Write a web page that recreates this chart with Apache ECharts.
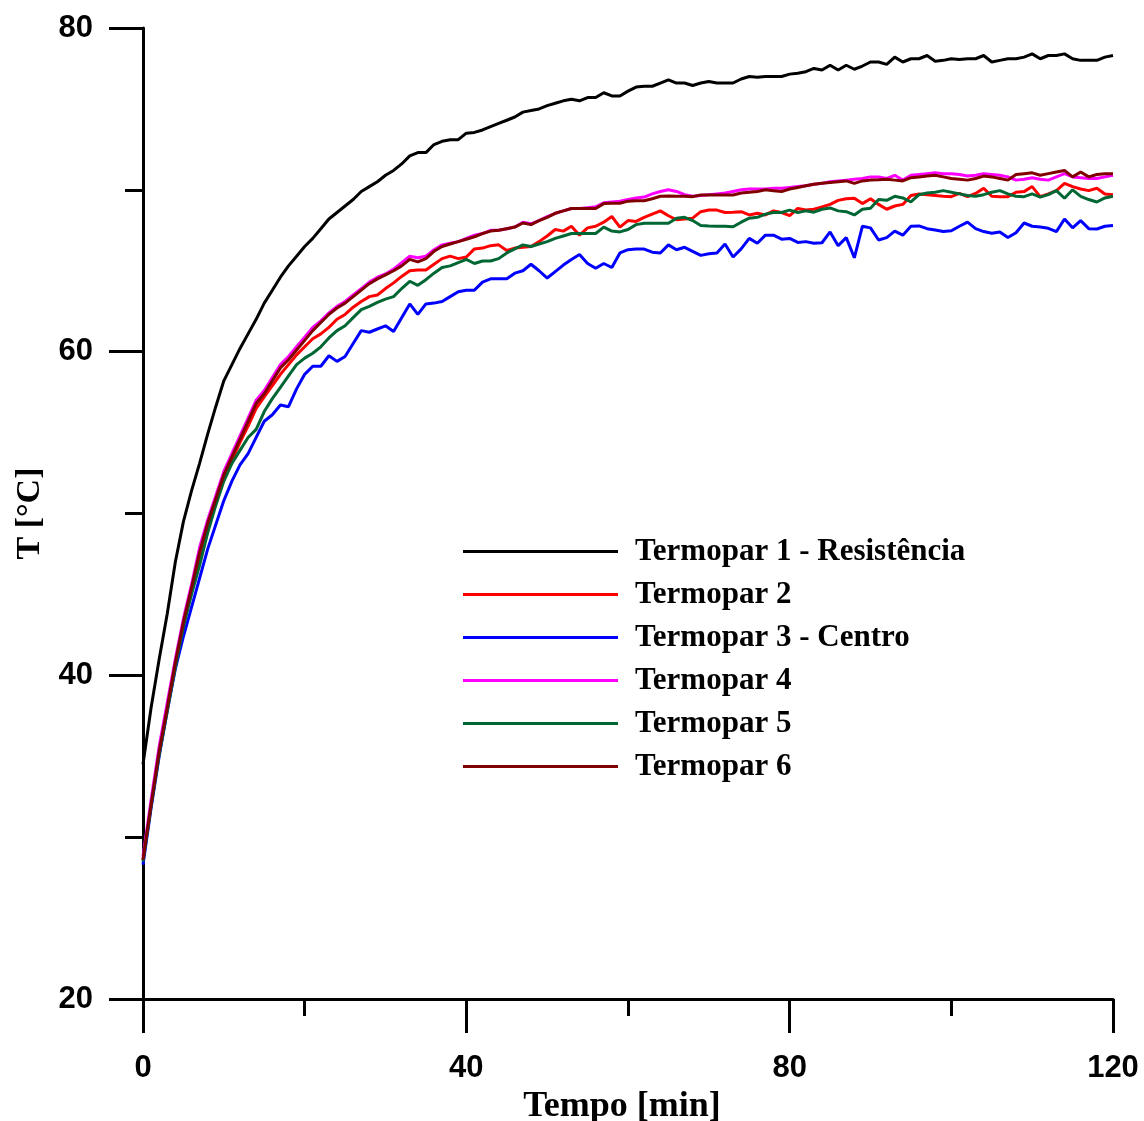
<!DOCTYPE html>
<html>
<head>
<meta charset="utf-8">
<script src="https://cdn.jsdelivr.net/npm/echarts@6/dist/echarts.min.js"></script>
<style>
html,body{margin:0;padding:0;background:#fff;}
#chart{width:1144px;height:1121px;}
</style>
</head>
<body>
<div id="chart"></div>
<script>
// Time in minutes: one reading per minute, 0..120
const seriesNames = ['Termopar 1 - Resistência','Termopar 2','Termopar 3 - Centro','Termopar 4','Termopar 5','Termopar 6'];
const seriesColors = ['#000000','#ff0000','#0000ff','#ff00ff','#006633','#800000'];
const xTicks = [0, 40, 80, 120];
const yTicks = [20, 40, 60, 80];

const termopar1 = [34.5,38.0,41.0,43.8,47.0,49.5,51.4,53.1,54.9,56.6,
58.2,59.2,60.2,61.1,62.0,63.0,63.8,64.6,65.3,65.9,
66.5,67.0,67.6,68.2,68.6,69.0,69.4,69.9,70.2,70.5,
70.9,71.2,71.6,72.1,72.3,72.3,72.8,73.0,73.1,73.1,
73.5,73.55,73.7,73.9,74.1,74.3,74.5,74.8,74.9,75.0,
75.2,75.35,75.5,75.6,75.5,75.7,75.7,76.0,75.8,75.8,
76.1,76.35,76.4,76.4,76.6,76.8,76.6,76.6,76.45,76.6,
76.7,76.6,76.6,76.6,76.85,77.0,76.95,77.0,77.0,77.0,
77.15,77.2,77.3,77.5,77.4,77.7,77.4,77.7,77.45,77.65,
77.9,77.9,77.75,78.2,77.9,78.1,78.1,78.3,77.95,78.0,
78.1,78.05,78.1,78.1,78.3,77.9,78.0,78.1,78.1,78.2,
78.4,78.1,78.3,78.3,78.4,78.1,78.0,78.0,78.0,78.2,78.3];

const termopar2 = [28.6,32.0,35.3,38.0,40.7,43.2,45.3,47.4,49.2,50.7,
52.1,53.3,54.4,55.4,56.5,57.2,57.9,58.6,59.2,59.8,
60.3,60.8,61.1,61.5,62.0,62.3,62.75,63.1,63.4,63.5,
63.9,64.25,64.65,65.0,65.05,65.05,65.4,65.75,65.9,65.75,
65.85,66.35,66.4,66.55,66.6,66.25,66.4,66.45,66.5,66.8,
67.15,67.55,67.45,67.75,67.2,67.65,67.75,68.0,68.35,67.7,
68.1,68.05,68.3,68.5,68.7,68.4,68.15,68.2,68.25,68.65,
68.75,68.75,68.6,68.62,68.65,68.45,68.55,68.45,68.7,68.6,
68.4,68.85,68.75,68.8,68.95,69.1,69.35,69.45,69.48,69.15,
69.45,69.1,68.8,69.0,69.1,69.65,69.74,69.7,69.65,69.6,
69.58,69.78,69.58,69.78,70.1,69.6,69.58,69.58,69.85,69.89,
70.2,69.58,69.75,69.95,70.4,70.2,70.05,69.95,70.1,69.74,69.7];

const termopar3 = [28.3,31.8,35.0,37.8,40.4,42.4,44.2,46.0,47.8,49.3,
50.8,52.0,53.0,53.7,54.7,55.7,56.1,56.7,56.6,57.7,
58.6,59.1,59.1,59.75,59.4,59.7,60.5,61.3,61.2,61.4,
61.6,61.25,62.1,62.95,62.3,62.95,63.0,63.1,63.4,63.7,
63.8,63.8,64.3,64.5,64.5,64.5,64.85,65.0,65.4,65.0,
64.55,64.95,65.35,65.7,66.0,65.45,65.15,65.45,65.2,66.1,
66.3,66.34,66.34,66.15,66.1,66.6,66.3,66.45,66.2,65.95,
66.05,66.1,66.65,65.85,66.35,67.0,66.7,67.2,67.2,66.95,
67.0,66.75,66.8,66.7,66.73,67.4,66.55,67.05,65.8,67.75,
67.65,66.9,67.05,67.45,67.2,67.75,67.77,67.6,67.52,67.42,
67.47,67.75,68.0,67.6,67.42,67.32,67.4,67.05,67.35,67.95,
67.75,67.7,67.62,67.42,68.2,67.65,68.1,67.6,67.58,67.75,67.8];

const termopar4 = [28.8,32.3,35.6,38.3,41.0,43.5,45.6,47.9,49.6,51.1,
52.6,53.7,54.8,55.9,57.0,57.6,58.4,59.2,59.7,60.3,
60.9,61.5,61.9,62.4,62.8,63.1,63.5,63.9,64.3,64.6,
64.8,65.1,65.5,65.9,65.8,65.9,66.3,66.6,66.7,66.8,
67.0,67.2,67.3,67.5,67.5,67.6,67.7,68.0,67.9,68.1,
68.35,68.55,68.7,68.85,68.85,68.9,68.95,69.2,69.25,69.3,
69.4,69.5,69.55,69.75,69.9,70.0,69.9,69.7,69.6,69.65,
69.7,69.75,69.8,69.9,70.0,70.05,70.05,70.05,70.1,70.1,
70.15,70.2,70.25,70.35,70.4,70.5,70.55,70.6,70.65,70.7,
70.8,70.8,70.7,70.9,70.6,70.9,70.95,71.0,71.05,71.0,
71.0,70.95,70.85,70.9,71.0,70.95,70.9,70.8,70.6,70.65,
70.75,70.65,70.6,70.8,71.0,70.8,70.75,70.7,70.7,70.8,70.9];

const termopar5 = [28.5,31.9,35.1,37.8,40.5,43.0,45.0,46.8,48.8,50.5,
52.0,53.1,53.9,54.7,55.2,56.3,57.1,57.8,58.5,59.2,
59.6,59.9,60.3,60.85,61.3,61.6,62.1,62.6,62.8,63.05,
63.25,63.4,63.9,64.35,64.1,64.45,64.85,65.2,65.3,65.5,
65.7,65.45,65.6,65.6,65.75,66.1,66.35,66.6,66.5,66.65,
66.8,67.0,67.15,67.3,67.3,67.3,67.3,67.7,67.45,67.4,
67.55,67.85,67.93,67.93,67.93,67.93,68.25,68.3,68.1,67.8,
67.77,67.75,67.75,67.72,68.0,68.25,68.3,68.5,68.6,68.6,
68.75,68.6,68.7,68.62,68.8,68.88,68.7,68.65,68.45,68.8,
68.86,69.4,69.35,69.6,69.5,69.25,69.7,69.8,69.85,69.95,
69.85,69.75,69.65,69.6,69.7,69.85,69.95,69.75,69.6,69.58,
69.75,69.55,69.7,69.95,69.48,70.0,69.6,69.4,69.25,69.5,69.6];

const termopar6 = [28.6,32.0,35.3,38.0,40.8,43.3,45.4,47.6,49.4,50.9,
52.4,53.5,54.6,55.7,56.8,57.4,58.2,59.0,59.5,60.1,
60.7,61.3,61.8,62.3,62.7,63.0,63.4,63.8,64.2,64.5,
64.75,65.0,65.3,65.7,65.55,65.75,66.2,66.5,66.65,66.8,
66.95,67.1,67.3,67.45,67.5,67.6,67.7,67.95,67.85,68.1,
68.3,68.55,68.7,68.85,68.85,68.85,68.85,69.15,69.17,69.17,
69.3,69.33,69.33,69.45,69.6,69.62,69.6,69.6,69.58,69.68,
69.68,69.68,69.68,69.68,69.8,69.85,69.9,70.0,69.95,69.9,
70.05,70.15,70.25,70.35,70.4,70.45,70.5,70.55,70.4,70.55,
70.6,70.62,70.65,70.6,70.55,70.75,70.8,70.85,70.9,70.8,
70.7,70.65,70.6,70.7,70.85,70.8,70.7,70.6,70.95,71.0,
71.05,70.9,71.0,71.1,71.2,70.8,71.1,70.8,70.95,71.0,71.0];

const allValues = [termopar1, termopar2, termopar3, termopar4, termopar5, termopar6];

const chart = echarts.init(document.getElementById('chart'), null, {renderer:'canvas'});
const axisFont = {fontFamily:'Liberation Sans', fontWeight:'bold', fontSize:31, color:'#000'};

const series = allValues.map((vals, i) => ({
  name: seriesNames[i],
  type: 'line',
  data: vals.map((v, t) => [t, v]),
  symbol: 'none',
  showSymbol: false,
  lineStyle: {color: seriesColors[i], width: 3},
  itemStyle: {color: seriesColors[i]},
  animation: false
}));

chart.setOption({
  backgroundColor: '#fff',
  animation: false,
  grid: {left:143, right:31, top:28, bottom:122, containLabel:false, outerBoundsMode:'none'},
  legend: {
    left: 463, top: 536, orient: 'vertical', padding: 0,
    icon: 'rect',
    itemWidth: 155, itemHeight: 3, itemGap: 12,
    data: seriesNames,
    textStyle: {fontFamily:'Liberation Serif', fontWeight:'bold', fontSize:31, color:'#000', padding:[0,0,0,12], lineHeight:31}
  },
  xAxis: {
    type:'value', min:0, max:120, interval:40,
    name:'Tempo [min]', nameLocation:'middle', nameGap:90,
    nameTextStyle:{fontFamily:'Liberation Serif', fontWeight:'bold', fontSize:36, color:'#000', padding:[0,12,0,0]},
    axisLine:{show:true, lineStyle:{color:'#000', width:3}},
    axisTick:{show:true, length:34, lineStyle:{color:'#000', width:3}},
    minorTick:{show:true, splitNumber:2, length:17, lineStyle:{color:'#000', width:3}},
    splitLine:{show:false},
    axisLabel:Object.assign({margin:54, formatter: v => xTicks.includes(v) ? String(v) : ''}, axisFont)
  },
  yAxis: {
    type:'value', min:20, max:80, interval:20,
    name:'T [°C]', nameLocation:'middle', nameGap:92,
    nameTextStyle:{fontFamily:'Liberation Serif', fontWeight:'bold', fontSize:34, color:'#000'},
    axisLine:{show:true, lineStyle:{color:'#000', width:3}},
    axisTick:{show:true, length:34, lineStyle:{color:'#000', width:3}},
    minorTick:{show:true, splitNumber:2, length:18, lineStyle:{color:'#000', width:3}},
    splitLine:{show:false},
    axisLabel:Object.assign({margin:50, formatter: v => yTicks.includes(v) ? String(v) : ''}, axisFont)
  },
  series: series
});
</script>
</body>
</html>
